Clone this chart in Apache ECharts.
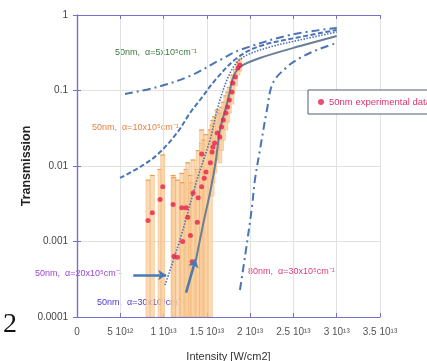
<!DOCTYPE html>
<html>
<head>
<meta charset="utf-8">
<script src="https://cdn.jsdelivr.net/npm/echarts@6/dist/echarts.min.js"></script>
<style>
html, body { margin: 0; padding: 0; background: #fff; }
#chart { width: 427px; height: 361px; }
</style>
</head>
<body>
<div id="chart"></div>
<script>
// intensity is kept in units of 1e13 W/cm2
const xTickLabels = ['0', '5 10¹²', '1 10¹³', '1.5 10¹³', '2 10¹³', '2.5 10¹³', '3 10¹³', '3.5 10¹³'];
const yTickLabels = ['1', '0.1', '0.01', '0.001', '0.0001'];

// 50nm experimental data
const expX  = [0.82, 0.87, 0.96, 0.99, 1.11, 1.12, 1.16, 1.21, 1.22, 1.26, 1.28, 1.31, 1.33, 1.34, 1.39, 1.40, 1.44, 1.44, 1.47, 1.49,
               1.54, 1.56, 1.57, 1.59, 1.62, 1.65, 1.67, 1.69, 1.72, 1.74, 1.76, 1.79, 1.80, 1.83, 1.86, 1.88];
const expT  = [0.0019, 0.0024, 0.0036, 0.0053, 0.0031, 0.00064, 0.00062, 0.0028, 0.0010, 0.0028, 0.0021, 0.0012, 0.00054, 0.0044, 0.0018, 0.0038, 0.0053, 0.0144, 0.0069, 0.0083,
               0.011, 0.0153, 0.0179, 0.0202, 0.0274, 0.0242, 0.0329, 0.0407, 0.0504, 0.0604, 0.0748, 0.0955, 0.126, 0.151, 0.199, 0.218];
const expLo = [0.0001, 0.0001, 0.0001, 0.0001, 0.0001, 0.0001, 0.0001, 0.0001, 0.0001, 0.0001, 0.0001, 0.0001, 0.0001, 0.0001, 0.0001, 0.0001, 0.0001, 0.0001, 0.0001, 0.0001,
               0.0001, 0.004, 0.006, 0.008, 0.012, 0.011, 0.016, 0.022, 0.03, 0.038, 0.05, 0.066, 0.09, 0.115, 0.16, 0.18];
const expHi = [0.0065, 0.0075, 0.009, 0.014, 0.0075, 0.007, 0.0065, 0.008, 0.006, 0.009, 0.011, 0.0075, 0.006, 0.012, 0.009, 0.016, 0.02, 0.03, 0.022, 0.026,
               0.03, 0.035, 0.04, 0.045, 0.055, 0.05, 0.06, 0.07, 0.085, 0.095, 0.11, 0.13, 0.16, 0.19, 0.24, 0.26];

// model curves
const a5X  = [0.554, 0.924, 1.305, 1.651, 1.882, 2.46, 3.0];
const a5T  = [0.0899, 0.111, 0.156, 0.2535, 0.344, 0.543, 0.673];
const a10X = [0.497, 0.728, 0.924, 1.155, 1.305, 1.42, 1.617, 1.848, 2.113, 2.575, 3.0];
const a10T = [0.00694, 0.0097, 0.014, 0.0274, 0.0503, 0.0748, 0.1465, 0.2695, 0.388, 0.511, 0.633];
const a20X = [1.016, 1.189, 1.386, 1.536, 1.628, 1.732, 1.824, 1.94, 2.229, 2.575, 3.0];
const a20T = [0.000265, 0.00105, 0.00653, 0.0221, 0.0604, 0.138, 0.218, 0.286, 0.377, 0.467, 0.595];
const a30X = [1.374, 1.455, 1.536, 1.605, 1.651, 1.744, 1.801, 1.882, 2.113, 2.575, 3.0];
const a30T = [0.000569, 0.001655, 0.00439, 0.012, 0.030, 0.0748, 0.1465, 0.205, 0.2695, 0.388, 0.527];
const b30X = [1.882, 1.94, 2.021, 2.055, 2.113, 2.194, 2.263, 2.425, 2.575, 2.771, 3.0];
const b30T = [0.000228, 0.000624, 0.00286, 0.00653, 0.0163, 0.0552, 0.1257, 0.205, 0.2695, 0.344, 0.426];

function pairs(xs, ys) {
    let out = [];
    for (let i = 0; i < xs.length; i++) out.push([xs[i], ys[i]]);
    return out;
}

const axisColor = '#7272cc';
const curveBlue = '#4a74b4';

let errData = [];
for (let i = 0; i < expX.length; i++) errData.push([expX[i], expLo[i], expHi[i]]);

const chart = echarts.init(document.getElementById('chart'));

const option = {
    animation: false,
    grid: { left: 77, right: 47, top: 15, bottom: 44, show: false, outerBoundsMode: 'none' },
    legend: {
        left: 308, top: 90,
        padding: [7, 10],
        borderColor: '#4e5c72', borderWidth: 1,
        backgroundColor: '#fff',
        itemWidth: 6, itemHeight: 6, itemGap: 4,
        data: [{ name: '50nm experimental data', icon: 'circle' }],
        textStyle: { color: '#e0306a', fontSize: 9.5, fontFamily: 'Liberation Sans' }
    },
    xAxis: [{
        type: 'value', min: 0, max: 3.5, interval: 0.5,
        name: 'Intensity [W/cm2]', nameLocation: 'middle', nameGap: 34,
        nameTextStyle: { color: '#333', fontSize: 11, fontFamily: 'Liberation Sans' },
        axisLine: { lineStyle: { color: axisColor, width: 1.2 } },
        axisTick: { inside: true, length: 4, lineStyle: { color: axisColor } },
        axisLabel: {
            color: '#555', fontSize: 10, margin: 10, fontFamily: 'Liberation Sans',
            formatter: v => xTickLabels[Math.round(v / 0.5)]
        },
        splitLine: { lineStyle: { color: '#e2e2e2' } }
    }, {
        type: 'value', min: 0, max: 3.5, interval: 0.5, position: 'top',
        axisLine: { lineStyle: { color: axisColor, width: 1.2 } },
        axisTick: { inside: true, length: 4, lineStyle: { color: axisColor } },
        axisLabel: { show: false }, splitLine: { show: false }
    }],
    yAxis: [{
        type: 'log', logBase: 10, min: 0.0001, max: 1,
        name: 'Transmission', nameLocation: 'middle', nameGap: 44, nameMoveOverlap: false,
        nameTextStyle: { color: '#222', fontSize: 12.5, fontWeight: 'bold', fontFamily: 'Liberation Sans' },
        axisLine: { show: true, lineStyle: { color: axisColor, width: 1.2 } },
        axisTick: { inside: true, length: 4, lineStyle: { color: axisColor } },
        axisLabel: {
            color: '#444', fontSize: 10, margin: 9, fontFamily: 'Liberation Sans',
            formatter: v => yTickLabels[Math.round(-Math.log10(v))]
        },
        splitLine: { lineStyle: { color: '#e2e2e2' } }
    }, {
        type: 'log', logBase: 10, min: 0.0001, max: 1, position: 'right',
        axisLine: { show: true, lineStyle: { color: axisColor, width: 1.2 } },
        axisTick: { inside: true, length: 4, lineStyle: { color: axisColor } },
        axisLabel: { show: false }, splitLine: { show: false }
    }],
    series: [
        {
            name: 'err', type: 'custom', clip: true, z: 1,
            data: errData,
            renderItem: function (params, api) {
                const x = api.value(0);
                const pLo = api.coord([x, api.value(1)]);
                const pHi = api.coord([x, api.value(2)]);
                return {
                    type: 'group', children: [
                        { type: 'rect', shape: { x: pHi[0] - 2, y: pHi[1], width: 4, height: pLo[1] - pHi[1] },
                          style: { fill: '#fad0a0', stroke: '#f0a85c', lineWidth: 0.6, opacity: 0.75 } },
                        { type: 'line', shape: { x1: pHi[0] - 2.5, y1: pHi[1], x2: pHi[0] + 2.5, y2: pHi[1] },
                          style: { stroke: '#eb9a48', lineWidth: 1 } }
                    ]
                };
            }
        },
        {
            name: 'a5', type: 'line', smooth: 0.35, symbol: 'none', z: 3,
            data: pairs(a5X, a5T),
            lineStyle: { color: curveBlue, width: 2, type: [8, 4, 2, 4] }
        },
        {
            name: 'a10', type: 'line', smooth: 0.35, symbol: 'none', z: 3,
            data: pairs(a10X, a10T),
            lineStyle: { color: curveBlue, width: 2, type: [5, 2.5] }
        },
        {
            name: 'a20', type: 'line', smooth: 0.35, symbol: 'none', z: 3,
            data: pairs(a20X, a20T),
            lineStyle: { color: '#4d70b8', width: 1.6, type: [1.5, 1.5] },
            markLine: {
                silent: true, symbol: ['none', 'arrow'], symbolSize: 8,
                label: { show: false },
                lineStyle: { color: '#4a7ab4', width: 2.5, type: 'solid' },
                data: [[{ coord: [0.65, 0.00036] }, { coord: [1.03, 0.00036] }]]
            }
        },
        {
            name: 'a30', type: 'line', smooth: 0.3, symbol: 'none', z: 3,
            data: pairs(a30X, a30T),
            lineStyle: { color: '#6a7e96', width: 2 },
            markLine: {
                silent: true, symbol: ['none', 'arrow'], symbolSize: 8,
                label: { show: false },
                lineStyle: { color: '#4a7ab4', width: 2.5, type: 'solid' },
                data: [[{ coord: [1.26, 0.00021] }, { coord: [1.37, 0.00058] }]]
            }
        },
        {
            name: 'b30', type: 'line', smooth: 0.35, symbol: 'none', z: 3,
            data: pairs(b30X, b30T),
            lineStyle: { color: curveBlue, width: 2, type: [8, 4, 2, 4] }
        },
        {
            name: '50nm experimental data', type: 'scatter', z: 4,
            symbol: 'circle', symbolSize: 5,
            itemStyle: { color: '#e8204e' },
            data: pairs(expX, expT)
        }
    ],
    graphic: [
        { type: 'text', left: 115, top: 48, style: { text: '50nm,  α=5x10⁵cm⁻¹', fill: '#3c7a3c', fontSize: 9, fontFamily: 'Liberation Sans' } },
        { type: 'text', left: 92, top: 123, style: { text: '50nm,  α=10x10⁵cm⁻¹', fill: '#e8803e', fontSize: 9, fontFamily: 'Liberation Sans' } },
        { type: 'text', left: 35, top: 269, style: { text: '50nm,  α=20x10⁵cm⁻¹', fill: '#9a44d6', fontSize: 9, fontFamily: 'Liberation Sans' } },
        { type: 'text', left: 97, top: 298, style: { text: '50nm,  α=30x10⁵cm⁻¹', fill: '#4a3ad0', fontSize: 9, fontFamily: 'Liberation Sans' } },
        { type: 'text', left: 248, top: 267, style: { text: '80nm,  α=30x10⁵cm⁻¹', fill: '#e03a80', fontSize: 9, fontFamily: 'Liberation Sans' } },
        { type: 'text', left: 3, top: 311, style: { text: '2', fill: '#111', fontSize: 28, fontFamily: 'Liberation Serif' } }
    ]
};

chart.setOption(option);
</script>
</body>
</html>
